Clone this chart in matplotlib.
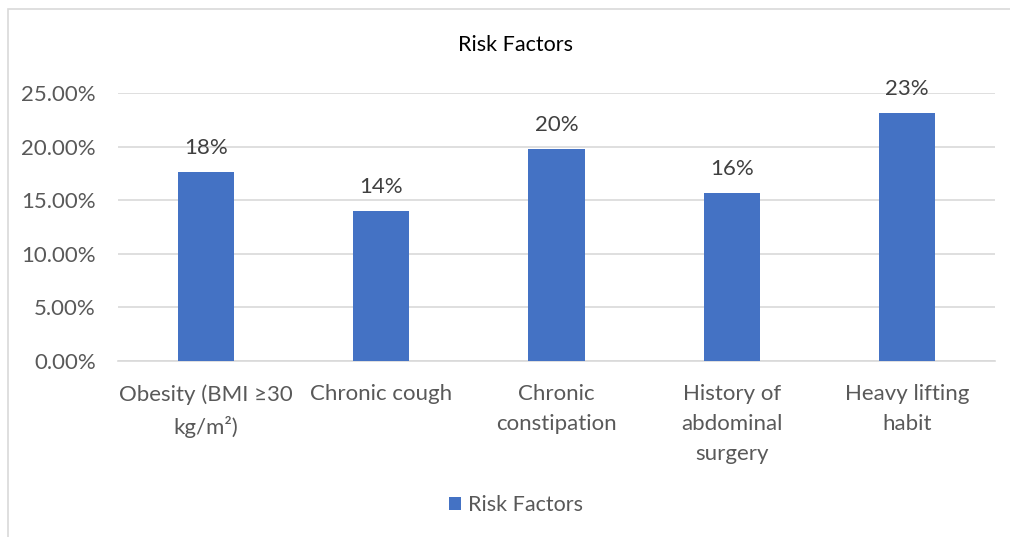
import matplotlib.pyplot as plt
from matplotlib.patches import Rectangle

plt.rcParams['font.family'] = ['Lato', 'DejaVu Sans']

categories = ['Obesity (BMI ≥30\nkg/m²)', 'Chronic cough', 'Chronic\nconstipation',
              'History of\nabdominal\nsurgery', 'Heavy lifting\nhabit']
values = [0.176, 0.140, 0.198, 0.157, 0.231]
value_labels = ['18%', '14%', '20%', '16%', '23%']
yticks = [0, 0.05, 0.10, 0.15, 0.20, 0.25]

text_color = '#595959'
bar_color = '#4472C4'

fig = plt.figure(figsize=(10.1, 5.37), dpi=100)
W, H = 1010, 537
ax = fig.add_axes([118 / W, 1 - 361 / H, (995 - 118) / W, (361 - 93) / H])

# chart frame (cropped at right/bottom)
fig.patches.append(Rectangle((8 / W, -0.1), 1.2, 1 - 9 / H + 0.1, transform=fig.transFigure,
                             fill=False, edgecolor='#D9D9D9', linewidth=1.2))

x = range(len(categories))
bars = ax.bar(x, values, width=0.32, color=bar_color, label='Risk Factors', zorder=3)
for b, lab in zip(bars, value_labels):
    ax.annotate(lab, (b.get_x() + b.get_width() / 2, b.get_height()), xytext=(0, 10),
                textcoords='offset points', ha='center', va='bottom', fontsize=16, color='#404040')

ax.set_xlim(-0.5, len(categories) - 0.5)
ax.set_ylim(0, 0.25)
ax.set_yticks(yticks)
ax.set_yticklabels([f'{t * 100:.2f}%' for t in yticks])
ax.set_xticks(list(x))
ax.set_xticklabels(categories, linespacing=1.62)
ax.tick_params(axis='both', length=0, labelsize=16, colors=text_color)
ax.tick_params(axis='y', pad=16)
ax.tick_params(axis='x', pad=16.5)
ax.grid(axis='y', color='#D9D9D9', linewidth=1.2, zorder=0)
for s in ['top', 'right', 'left']:
    ax.spines[s].set_visible(False)
ax.spines['bottom'].set_color('#D9D9D9')
ax.spines['bottom'].set_linewidth(1.2)

fig.text(516 / W, 1 - 45 / H, 'Risk Factors', ha='center', va='center', fontsize=15.5, color='#000000')
fig.legend(loc='center', bbox_to_anchor=(516 / W, 1 - 505 / H), frameon=False, fontsize=15.5,
           handlelength=0.55, handleheight=0.55, handletextpad=0.3, labelcolor=text_color)

fig.savefig('out.png', dpi=100)
